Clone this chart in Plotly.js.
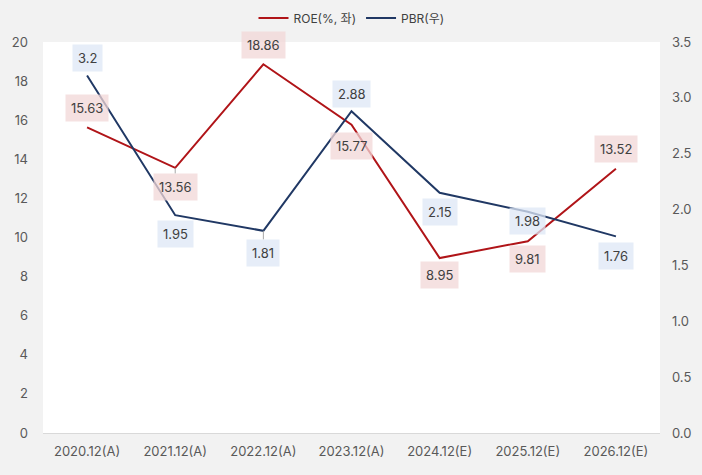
<!DOCTYPE html>
<html><head><meta charset="utf-8">
<script src="https://cdn.plot.ly/plotly-3.0.1.min.js"></script>
<style>html,body{margin:0;padding:0;background:#f2f2f2;}#chart{width:702px;height:475px;}</style>
</head><body><div id="chart"></div>
<script>
const categories = ['2020.12(A)','2021.12(A)','2022.12(A)','2023.12(A)','2024.12(E)','2025.12(E)','2026.12(E)'];
const roe = [15.63, 13.56, 18.86, 15.77, 8.95, 9.81, 13.52];
const pbr = [3.2, 1.95, 1.81, 2.88, 2.15, 1.98, 1.76];
const roeName = 'ROE(%, 좌)';
const pbrName = 'PBR(우)';

// label offsets in pixels (positive = above the point)
const roeLabelShift = [19, -19, 19, -21, -17, -18, 20];
const pbrLabelShift = [18, -19, -22, 17, -19, -9, -20];
const roeLeader = [false, true, false, false, false, false, false];
const pbrLeader = [false, false, true, false, false, false, false];

const FONT = 'Inter, "Noto Sans CJK KR", sans-serif';
const red = '#b01418', navy = '#203864';

const traces = [
  {x: categories, y: roe, name: roeName, type: 'scatter', mode: 'lines',
   line: {color: red, width: 2}, yaxis: 'y', cliponaxis: false},
  {x: categories, y: pbr, name: pbrName, type: 'scatter', mode: 'lines',
   line: {color: navy, width: 2}, yaxis: 'y2', cliponaxis: false}
];

function makeAnn(x, y, yref, text, shift, leader, bg) {
  const a = {x: x, y: y, xref: 'x', yref: yref, text: text,
    font: {family: FONT, size: 13, color: '#404040'},
    bgcolor: bg, borderpad: 5};
  if (leader) {
    a.showarrow = true; a.ax = 0; a.ay = -shift; a.arrowhead = 0;
    a.arrowwidth = 1; a.arrowcolor = '#a6a6a6'; a.standoff = 0;
  } else {
    a.showarrow = false; a.yshift = shift;
  }
  return a;
}
const annotations = [];
categories.forEach((c, i) => {
  annotations.push(makeAnn(c, roe[i], 'y', roe[i].toString(), roeLabelShift[i], roeLeader[i], 'rgba(242,215,215,0.75)'));
  annotations.push(makeAnn(c, pbr[i], 'y2', pbr[i].toString(), pbrLabelShift[i], pbrLeader[i], 'rgba(222,231,245,0.75)'));
});

const layout = {
  width: 702, height: 475,
  paper_bgcolor: '#f2f2f2', plot_bgcolor: '#ffffff',
  margin: {l: 43, r: 42, t: 42, b: 42, autoexpand: false},
  font: {family: FONT, color: '#595959', size: 13},
  showlegend: true,
  legend: {orientation: 'h', x: 0.5, xanchor: 'center', yref: 'container', y: 1 - 18/475, yanchor: 'middle',
    font: {family: FONT, size: 12, color: '#404040'}, bgcolor: 'rgba(0,0,0,0)',
    itemwidth: 30, tracegroupgap: 0},
  xaxis: {type: 'category', range: [-0.5, 6.5], showgrid: false, zeroline: false,
    showline: true, linecolor: '#d9d9d9', linewidth: 1, ticks: '', ticklabelstandoff: 6,
    tickfont: {family: FONT, size: 13, color: '#595959'}, fixedrange: true, automargin: false},
  yaxis: {range: [0, 20], dtick: 2, showgrid: false, zeroline: false, showline: false,
    ticks: '', ticklabelstandoff: 14, automargin: false,
    tickfont: {family: FONT, size: 13, color: '#595959'}},
  yaxis2: {range: [0, 3.5], dtick: 0.5, tickformat: '.1f', overlaying: 'y', side: 'right',
    showgrid: false, zeroline: false, showline: false, ticks: '', ticklabelstandoff: 11, automargin: false,
    tickfont: {family: FONT, size: 13, color: '#595959'}},
  annotations: annotations
};

Plotly.newPlot('chart', traces, layout, {displayModeBar: false, staticPlot: true});
</script></body></html>
